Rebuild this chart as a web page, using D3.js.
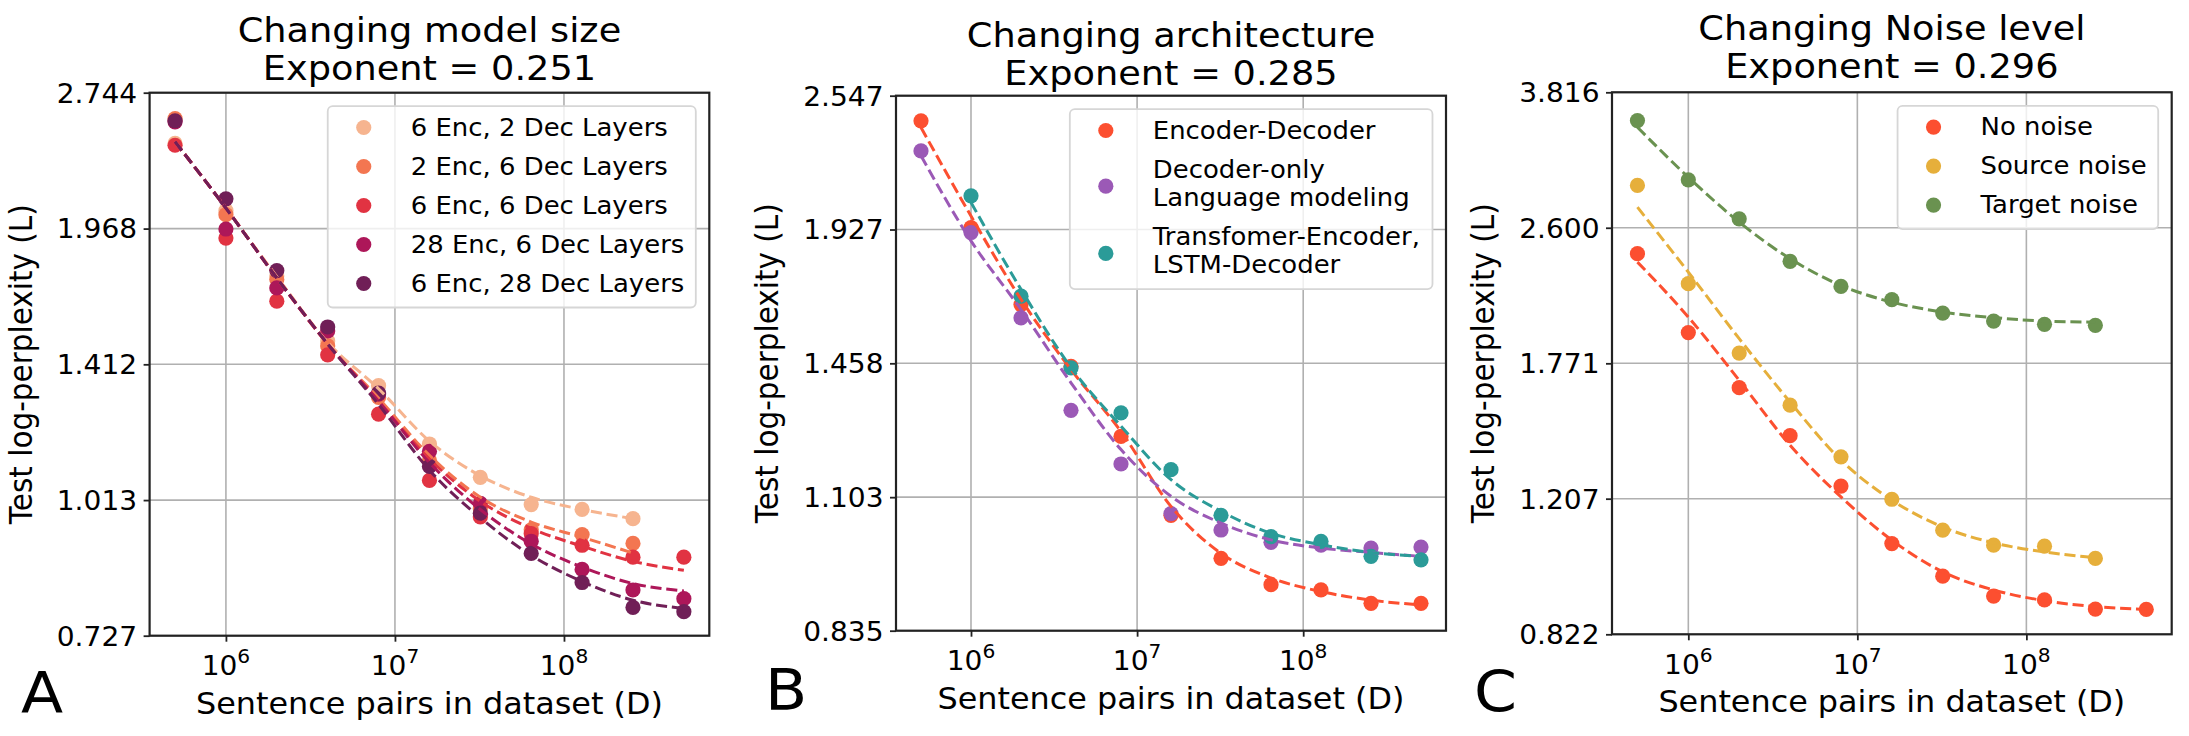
<!DOCTYPE html>
<html>
<head>
<meta charset="utf-8">
<script src="https://cdn.jsdelivr.net/npm/d3@7"></script>
<style>
  body { margin: 0; background: #fff; }
  svg { display: block; font-family: "DejaVu Sans", sans-serif; }
</style>
</head>
<body>
<div class="canvas"></div>
<script>
// sentence pairs in dataset (shared x values)
const datasetSizes = [5e5, 1e6, 2e6, 4e6, 8e6, 1.6e7, 3.2e7, 6.4e7, 1.28e8, 2.56e8, 5.12e8];
const xTickValues = [1e6, 1e7, 1e8];

// panel A - model size
const modelTitle = ["Changing model size", "Exponent = 0.251"];
const modelNames = ["6 Enc, 2 Dec Layers", "2 Enc, 6 Dec Layers", "6 Enc, 6 Dec Layers", "28 Enc, 6 Dec Layers", "6 Enc, 28 Dec Layers"];
const modelTicks = [0.727, 1.013, 1.412, 1.968, 2.744];
const modelPoints = [
  [2.424, 2.056, 1.752, 1.495, 1.340, 1.162, 1.071, 1.002, 0.990, 0.968, null],
  [2.575, 2.036, 1.738, 1.477, 1.302, 1.116, 0.992, 0.942, 0.931, 0.911, null],
  [2.413, 1.923, 1.648, 1.445, 1.250, 1.063, 0.972, 0.933, 0.907, 0.881, 0.881],
  [2.555, 1.966, 1.702, 1.532, 1.313, 1.141, 1.005, 0.916, 0.855, 0.813, 0.796],
  [2.562, 2.117, 1.776, 1.547, 1.316, 1.100, 0.981, 0.889, 0.828, 0.779, 0.771]
];
const modelFits = [
  [2.434, 2.069, 1.750, 1.490, 1.330, 1.170, 1.075, 1.020, 0.990, 0.968, null],
  [2.434, 2.069, 1.744, 1.484, 1.300, 1.130, 1.020, 0.960, 0.925, 0.890, null],
  [2.434, 2.069, 1.744, 1.484, 1.290, 1.120, 1.010, 0.945, 0.905, 0.872, 0.853],
  [2.434, 2.069, 1.744, 1.484, 1.290, 1.110, 0.990, 0.910, 0.860, 0.826, 0.811],
  [2.434, 2.069, 1.744, 1.484, 1.280, 1.090, 0.970, 0.885, 0.830, 0.793, 0.777]
];

// panel B - architecture
const archTitle = ["Changing architecture", "Exponent = 0.285"];
const archNames = ["Encoder-Decoder", "Decoder-only\nLanguage modeling", "Transfomer-Encoder,\nLSTM-Decoder"];
const archTicks = [0.835, 1.103, 1.458, 1.927, 2.547];
const archPoints = [
  [2.417, 1.935, 1.648, 1.449, 1.252, 1.062, 0.971, 0.919, 0.909, 0.884, 0.884],
  [2.270, 1.915, 1.603, 1.322, 1.182, 1.066, 1.030, 1.004, 0.998, 0.992, 0.994],
  [null, 2.067, 1.677, 1.444, 1.315, 1.168, 1.062, 1.016, 1.006, 0.975, 0.968]
];
const archFits = [
  [2.384, 1.982, 1.666, 1.439, 1.265, 1.082, 0.981, 0.932, 0.906, 0.890, 0.881],
  [2.247, 1.882, 1.631, 1.400, 1.218, 1.105, 1.045, 1.009, 0.992, 0.983, 0.975],
  [null, 2.039, 1.701, 1.445, 1.279, 1.144, 1.071, 1.023, 0.999, 0.983, 0.975]
];

// panel C - noise level
const noiseTitle = ["Changing Noise level", "Exponent = 0.296"];
const noiseNames = ["No noise", "Source noise", "Target noise"];
const noiseTicks = [0.822, 1.207, 1.771, 2.600, 3.816];
const noisePoints = [
  [2.416, 1.932, 1.653, 1.443, 1.251, 1.063, 0.969, 0.916, 0.906, 0.883, 0.882],
  [2.931, 2.219, 1.823, 1.573, 1.359, 1.205, 1.104, 1.058, 1.055, 1.019, null],
  [3.522, 2.978, 2.667, 2.364, 2.202, 2.121, 2.042, 1.996, 1.978, 1.972, null]
];
const noiseFits = [
  [2.359, 2.019, 1.688, 1.404, 1.213, 1.073, 0.981, 0.932, 0.904, 0.889, 0.882],
  [2.756, 2.293, 1.899, 1.587, 1.346, 1.202, 1.114, 1.065, 1.038, 1.021, null],
  [3.456, 3.000, 2.642, 2.382, 2.208, 2.106, 2.048, 2.016, 1.996, 1.990, null]
];

// colours
const modelColors = ["#f6b48f", "#f37651", "#e13342", "#ad1759", "#701f57"];
const archColors = ["#fc4f30", "#9b59b6", "#2b9b98"];
const noiseColors = ["#fc4f30", "#e6af3b", "#6a9250"];

// layout
const width = 2189;
const height = 736;
const SX = 1.08; // horizontal stretch of the original picture
const font = { title: 34, label: 29.5, tick: 26, legend: 24, letter: 57 };
const panels = [
  { letter: "A", title: modelTitle, names: modelNames, colors: modelColors, ticks: modelTicks,
    points: modelPoints, fits: modelFits,
    left: 149.6, right: 709.3, top: 92.7, bottom: 635.7, titleGap: 12.7, letterX: 21, letterY: 713 },
  { letter: "B", title: archTitle, names: archNames, colors: archColors, ticks: archTicks,
    points: archPoints, fits: archFits,
    left: 896, right: 1446, top: 95.7, bottom: 630.7, titleGap: 10.7, letterX: 765, letterY: 710 },
  { letter: "C", title: noiseTitle, names: noiseNames, colors: noiseColors, ticks: noiseTicks,
    points: noisePoints, fits: noiseFits,
    left: 1612, right: 2171.7, top: 92.3, bottom: 634.3, titleGap: 14.3, letterX: 1474, letterY: 711.7 }
];

const svg = d3
  .select(".canvas")
  .append("svg")
  .attr("width", width)
  .attr("height", height);

svg.append("rect").attr("width", width).attr("height", height).attr("fill", "#fff");

// text helper, stretched horizontally like the reference
const addText = (parent, x, y, str, size, anchor) =>
  parent
    .append("text")
    .attr("transform", `translate(${x},${y}) scale(${SX},1)`)
    .attr("text-anchor", anchor)
    .attr("font-size", size)
    .attr("fill", "#000")
    .text(str);

// x extent with 5% log padding like matplotlib
const logExt = d3.extent(datasetSizes).map(Math.log10);
const pad = (logExt[1] - logExt[0]) * 0.05;
const xDomain = [Math.pow(10, logExt[0] - pad), Math.pow(10, logExt[1] + pad)];

const drawPanel = (p) => {
  const x = d3.scaleLog().domain(xDomain).range([p.left, p.right]);
  const y = d3.scaleLog().domain([p.ticks[0], p.ticks[p.ticks.length - 1]]).range([p.bottom, p.top]);
  const g = svg.append("g");

  // grid
  g.selectAll(".gx")
    .data(xTickValues)
    .enter()
    .append("line")
    .attr("x1", (d) => x(d)).attr("x2", (d) => x(d))
    .attr("y1", p.top).attr("y2", p.bottom)
    .attr("stroke", "#b0b0b0").attr("stroke-width", 1.6);
  g.selectAll(".gy")
    .data(p.ticks)
    .enter()
    .append("line")
    .attr("x1", p.left).attr("x2", p.right)
    .attr("y1", (d) => y(d)).attr("y2", (d) => y(d))
    .attr("stroke", "#b0b0b0").attr("stroke-width", 1.6);

  // scatter points first, fitted dashed lines on top
  p.points.forEach((vals, i) => {
    const pts = datasetSizes.map((d, j) => ({ d, v: vals[j] })).filter((o) => o.v != null);
    g.selectAll(null)
      .data(pts)
      .enter()
      .append("circle")
      .attr("cx", (o) => x(o.d))
      .attr("cy", (o) => y(o.v))
      .attr("r", 7.6)
      .attr("fill", p.colors[i]);
  });

  const fitLine = d3
    .line()
    .defined((o) => o.v != null)
    .x((o) => x(o.d))
    .y((o) => y(o.v))
    .curve(d3.curveMonotoneX);

  p.fits.forEach((vals, i) => {
    const pts = datasetSizes.map((d, j) => ({ d, v: vals[j] })).filter((o) => o.v != null);
    g.append("path")
      .attr("d", fitLine(pts))
      .attr("fill", "none")
      .attr("stroke", p.colors[i])
      .attr("stroke-width", 3)
      .attr("stroke-dasharray", "11.1,4.8");
  });

  // axes
  const yAxis = d3.axisLeft(y).tickValues(p.ticks).tickFormat(d3.format(".3f")).tickSize(6).tickPadding(6);
  const ya = g.append("g").attr("transform", `translate(${p.left},0)`).call(yAxis);
  ya.select(".domain").remove();
  ya.selectAll("line").attr("stroke", "#222").attr("stroke-width", 1.8);
  ya.selectAll("text")
    .attr("font-family", "DejaVu Sans")
    .attr("font-size", font.tick)
    .attr("fill", "#000")
    .attr("x", -12.5 / SX)
    .attr("dy", "0.36em")
    .attr("transform", `scale(${SX},1)`);

  const xAxis = d3.axisBottom(x).tickValues(xTickValues).tickFormat("").tickSize(6);
  const xa = g.append("g").attr("transform", `translate(0,${p.bottom})`).call(xAxis);
  xa.select(".domain").remove();
  xa.selectAll("line").attr("stroke", "#222").attr("stroke-width", 1.8);

  xTickValues.forEach((t) => {
    const txt = addText(g, x(t), p.bottom + 39.3, "", font.tick, "middle");
    txt.append("tspan").text("10");
    txt.append("tspan")
      .attr("font-size", font.tick * 0.72)
      .attr("dy", "-0.62em")
      .text(Math.round(Math.log10(t)));
  });

  // spines
  g.append("rect")
    .attr("x", p.left).attr("y", p.top)
    .attr("width", p.right - p.left).attr("height", p.bottom - p.top)
    .attr("fill", "none").attr("stroke", "#222").attr("stroke-width", 2.2);

  // titles and labels
  const cx = (p.left + p.right) / 2;
  const t2 = p.top - p.titleGap;
  addText(svg, cx, t2 - 38.4, p.title[0], font.title, "middle");
  addText(svg, cx, t2, p.title[1], font.title, "middle");
  addText(svg, cx, p.bottom + 78, "Sentence pairs in dataset (D)", font.label, "middle");
  svg.append("text")
    .attr("transform", `translate(${p.left - 118},${(p.top + p.bottom) / 2}) rotate(-90) scale(1,${SX})`)
    .attr("text-anchor", "middle")
    .attr("font-size", font.label)
    .text("Test log-perplexity (L)");
  addText(svg, p.letterX, p.letterY, p.letter, font.letter, "start");

  // legend
  const lg = svg.append("g");
  const lineGap = 28.3;
  const rowGap = 39;
  let cursor = 21.3;
  const texts = [];
  p.names.forEach((name, i) => {
    const lines = name.split("\n");
    const markY = cursor + (lines.length - 1) * lineGap / 2 + (lines.length > 1 ? 2.5 : 0);
    lg.append("circle").attr("cx", 36).attr("cy", markY).attr("r", 7.6).attr("fill", p.colors[i]);
    lines.forEach((ln, k) => {
      texts.push(addText(lg, 83, cursor + k * lineGap + 8.3, ln, font.legend, "start"));
    });
    cursor += (lines.length - 1) * lineGap + rowGap;
  });
  const maxW = d3.max(texts, (t) => t.node().getBBox().width * SX);
  const boxW = 83 + maxW + 11.5;
  const boxH = cursor - rowGap + 24;
  lg.insert("rect", ":first-child")
    .attr("x", 0).attr("y", 0)
    .attr("width", boxW).attr("height", boxH)
    .attr("rx", 5)
    .attr("fill", "rgba(255,255,255,0.8)")
    .attr("stroke", "#d6d6d6")
    .attr("stroke-width", 1.8);
  lg.attr("transform", `translate(${p.right - 13.5 - boxW},${p.top + 13.5})`);
};

panels.forEach(drawPanel);
</script>
</body>
</html>
